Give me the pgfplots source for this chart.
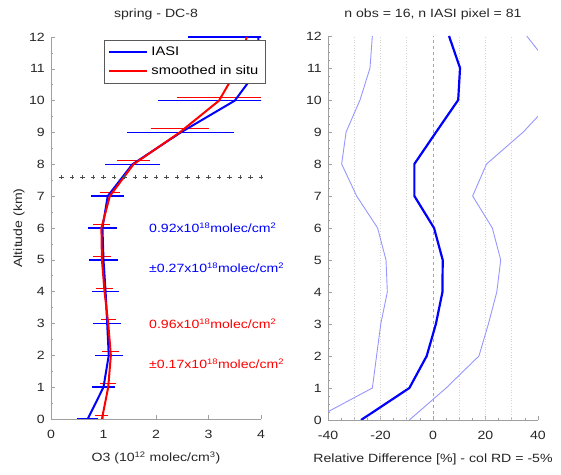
\documentclass[border=0pt]{standalone}
\usepackage{fontspec}
\setmainfont{Liberation Sans}[FakeStretch=1.18]
\usepackage{pgfplots}
\usepackage{pgfplotstable}
\pgfplotsset{compat=1.18}
\definecolor{lightb}{RGB}{150,150,255}
\pgfplotstableread{
y x e
0 0.70 0.20
1 1.00 0.21
2 1.10 0.27
3 1.07 0.27
4 1.04 0.26
5 1.00 0.27
6 0.98 0.27
7 1.08 0.31
8 1.55 0.53
9 2.47 1.02
10 3.50 1.47
11 3.95 1.30
12 3.95 1.35
}\iasi
\pgfplotstableread{
y x e
0 0.97 0.07
1 1.09 0.10
2 1.14 0.11
3 1.09 0.09
4 1.02 0.10
5 0.97 0.12
6 0.96 0.11
7 1.12 0.14
8 1.57 0.26
9 2.45 0.50
10 3.20 0.74
11 3.55 0.45
12 3.73 0.50
}\situ
\pgfplotstableread{
y c lo hi
0 -27.4 -45.9 -9.0
1 -9.0 -23.1 5.0
2 -2.4 -21.5 17.5
3 1.1 -19.9 21.1
4 3.6 -17.4 24.3
5 3.7 -17.9 25.8
6 0.4 -21.1 22.6
7 -7.1 -29.1 15.1
8 -7.1 -34.8 20.4
9 1.2 -33.1 34.4
10 9.6 -27.8 45.8
11 10.3 -24.0 45.3
12 6.1 -23.1 35.7
}\rd
\begin{document}
\fontsize{12}{14}\selectfont
\begin{tikzpicture}
\useasboundingbox (0,0) rectangle (561bp,475bp);
\pgfplotsset{
  myax/.style={
    scale only axis,
    axis x line*=bottom, axis y line*=left,
    x axis line style={-}, y axis line style={-},
    axis line style={gray!75, line width=0.7bp},
    tick style={gray!75, line width=0.6bp},
    tick align=inside,
    major tick length=4bp, minor tick length=2bp,
    ticklabel style={font=\fontsize{12}{14}\selectfont, black!85},
    /pgf/number format/assume math mode=true,
    xticklabel style={yshift=-7bp},
    yticklabel style={xshift=-2bp},
    ymin=0, ymax=12, ytick={0,1,...,12},
  }
}
% ---------------- left panel
\begin{axis}[myax,
  at={(51bp,56bp)}, anchor=south west,
  width=210bp, height=382bp,
  xmin=0, xmax=4, xtick={0,1,2,3,4},
  minor y tick num=1,
  legend style={at={(0.252,0.992)}, anchor=north west,
    draw=gray!70!black, fill=white, line width=0.6bp,
    font=\fontsize{12.5}{14}\selectfont,
    inner xsep=4bp, inner ysep=3.5bp,
    nodes={inner sep=3.2bp}, row sep=2bp},
  legend cell align=left,
  legend image code/.code={\draw[#1, line width=2bp] (0,0) -- (38bp,0);},
]
% plus line
\addplot[only marks, mark=+, mark size=2.2bp, gray!60!black, forget plot] coordinates {
(0.2,7.6)(0.4,7.6)(0.6,7.6)(0.8,7.6)(1.0,7.6)(1.2,7.6)(1.4,7.6)(1.6,7.6)(1.8,7.6)(2.0,7.6)
(2.2,7.6)(2.4,7.6)(2.6,7.6)(2.8,7.6)(3.0,7.6)(3.2,7.6)(3.4,7.6)(3.6,7.6)(3.8,7.6)(4.0,7.6)};
% error bars
\addplot[draw=none, mark=none, forget plot,
  error bars/.cd, x dir=both, x explicit, error mark=none,
  error bar style={draw=blue, line width=1.4bp}]
  table[x=x, y=y, x error=e] {\iasi};
\addplot[draw=none, mark=none, forget plot,
  error bars/.cd, x dir=both, x explicit,
  error bar style={draw=red, line width=1bp},
  error mark options={draw=red, line width=1bp, mark size=2.8bp}]
  table[x=x, y expr=\thisrow{y}+0.11, x error=e] {\situ};
% lines
\addplot[blue, line width=2bp, mark=none] table[x=x, y=y] {\iasi};
\addlegendentry{IASI}
\addplot[red, line width=2bp, mark=none] table[x=x, y=y] {\situ};
\addlegendentry{smoothed in situ}
\end{axis}
% ---------------- right panel
\begin{axis}[myax,
  at={(328bp,55bp)}, anchor=south west,
  width=210bp, height=384bp,
  xmin=-40, xmax=40, xtick={-40,-20,0,20,40},
  minor x tick num=3, minor y tick num=3,
]
\addplot[gray!35, dotted, line width=0.7bp] coordinates {(-30,0)(-30,12)};
\addplot[gray!35, dotted, line width=0.7bp] coordinates {(-20,0)(-20,12)};
\addplot[gray!35, dotted, line width=0.7bp] coordinates {(-10,0)(-10,12)};
\addplot[gray!35, dotted, line width=0.7bp] coordinates {(10,0)(10,12)};
\addplot[gray!35, dotted, line width=0.7bp] coordinates {(20,0)(20,12)};
\addplot[gray!35, dotted, line width=0.7bp] coordinates {(30,0)(30,12)};
\addplot[gray!70, dashed, line width=0.8bp] coordinates {(0,0)(0,12)};
\addplot[lightb, line width=0.9bp] table[x=lo, y=y] {\rd};
\addplot[lightb, line width=0.9bp] table[x=hi, y=y] {\rd};
\addplot[blue, line width=2.2bp] table[x=c, y=y] {\rd};
\end{axis}
% ---------------- texts
\begin{scope}[x=1bp,y=1bp]
\node[anchor=west, inner sep=0, blue] at (149,247) {0.92x10\textsuperscript{18}molec/cm\textsuperscript{2}};
\node[anchor=west, inner sep=0, blue] at (149,207) {±0.27x10\textsuperscript{18}molec/cm\textsuperscript{2}};
\node[anchor=west, inner sep=0, red] at (149,151) {0.96x10\textsuperscript{18}molec/cm\textsuperscript{2}};
\node[anchor=west, inner sep=0, red] at (149,111) {±0.17x10\textsuperscript{18}molec/cm\textsuperscript{2}};
\node[black!85] at (156,461) {spring - DC-8};
\node[black!85] at (433,461) {n obs = 16, n IASI pixel = 81};
\node[black!85] at (156,17) {O3 (10\textsuperscript{12} molec/cm\textsuperscript{3})};
\node[black!85] at (433,16) {Relative Difference [\%] - col RD = -5\%};
\node[black!85, rotate=90] at (19,247) {Altitude (km)};
\end{scope}
\end{tikzpicture}
\end{document}
